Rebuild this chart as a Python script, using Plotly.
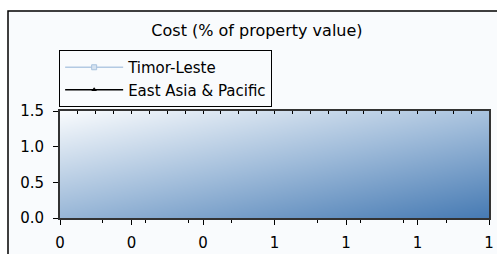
import plotly.graph_objects as go

# ---- data (the reference shows no observations for either series) ----
years = [None]
timor_leste = [None]
east_asia_pacific = [None]

series_names = ["Timor-Leste", "East Asia & Pacific"]
x_tick_values = [0, 1/6, 2/6, 3/6, 4/6, 5/6, 1]
x_tick_labels = ["0", "0", "0", "1", "1", "1", "1"]
y_tick_values = [0.0, 0.5, 1.0, 1.5]
y_tick_labels = ["0.0", "0.5", "1.0", "1.5"]
title_text = "Cost (% of property value)"

FONT = "DejaVu Sans"

fig = go.Figure()

# background gradient of the plot area (decoration only, on hidden axes)
fig.add_trace(go.Heatmap(
    x=[0, 1], y=[0, 1],
    z=[[0.55, 1.0], [0.0, 0.45]],
    zsmooth="best", showscale=False, hoverinfo="skip",
    colorscale=[[0, "#F9FBFD"], [0.5, "#A0BCDA"], [1, "#467AB3"]],
    xaxis="x3", yaxis="y3", showlegend=False,
))

fig.add_trace(go.Scatter(
    x=years, y=timor_leste, name=series_names[0], mode="lines+markers",
    line=dict(color="#B3CAE3", width=1.5),
    marker=dict(symbol="square", size=5, color="#D5E2F0", line=dict(color="#A9C3DF", width=1)),
    showlegend=True,
))
fig.add_trace(go.Scatter(
    x=years, y=east_asia_pacific, name=series_names[1], mode="lines+markers",
    line=dict(color="#000000", width=1.5),
    marker=dict(symbol="triangle-up", size=5, color="#000000"),
    showlegend=True,
))

# top mirrored inside ticks
fig.add_trace(go.Scatter(x=[None], y=[None], xaxis="x2", yaxis="y", showlegend=False))

fig.update_layout(
    width=497, height=254,
    margin=dict(l=60, r=8, t=111, b=36, autoexpand=False),
    paper_bgcolor="#FFFFFF",
    plot_bgcolor="rgba(0,0,0,0)",
    font=dict(family=FONT, size=14, color="#000000"),
    title=dict(text=title_text, x=0.517, xref="container", xanchor="center",
               y=1 - 30/254, yref="container", yanchor="middle",
               font=dict(family=FONT, size=16, color="#000000")),
    showlegend=True,
    legend=dict(x=-0.002, y=(218 - 50) / 107, xanchor="left", yanchor="top",
                xref="paper", yref="paper",
                bordercolor="#000000", borderwidth=1, bgcolor="rgba(0,0,0,0)",
                font=dict(family=FONT, size=15, color="#000000"),
                itemwidth=58, tracegroupgap=0),
    xaxis=dict(range=[0, 1], tickvals=x_tick_values, ticktext=x_tick_labels,
               ticks="outside", ticklen=5, tickwidth=1, tickcolor="#000000",
               showline=True, linecolor="#333333", linewidth=2, mirror=True,
               showgrid=False, zeroline=False, ticklabelstandoff=5,
               minor=dict(ticks="outside", ticklen=3, tickcolor="#000000", nticks=4, showgrid=False),
               tickfont=dict(family=FONT, size=15), layer="above traces"),
    xaxis2=dict(range=[0, 1], overlaying="x", side="top", showticklabels=False,
                tickvals=[i / 24 for i in range(25)], ticks="inside", ticklen=3,
                tickcolor="#000000", showgrid=False, zeroline=False, showline=False),
    yaxis=dict(range=[0, 1.5], tickvals=y_tick_values, ticktext=y_tick_labels,
               ticks="outside", ticklen=5, tickcolor="#000000",
               showline=True, linecolor="#333333", linewidth=2, mirror=True,
               showgrid=False, zeroline=False, ticklabelstandoff=6,
               tickfont=dict(family=FONT, size=15), layer="above traces"),
    xaxis3=dict(range=[0, 1], overlaying="x", visible=False, fixedrange=True),
    yaxis3=dict(range=[0, 1], overlaying="y", visible=False, fixedrange=True),
    shapes=[dict(type="rect", xref="paper", yref="paper", layer="below",
                 x0=(8 - 60) / 429, x1=1.2, y0=-0.6, y1=(218 - 11) / 107,
                 line=dict(color="#000000", width=1.5), fillcolor="#F9FBFD")],
)

fig.write_html("out.html", config={"displayModeBar": False},
               post_script="document.body.style.margin='0';")
